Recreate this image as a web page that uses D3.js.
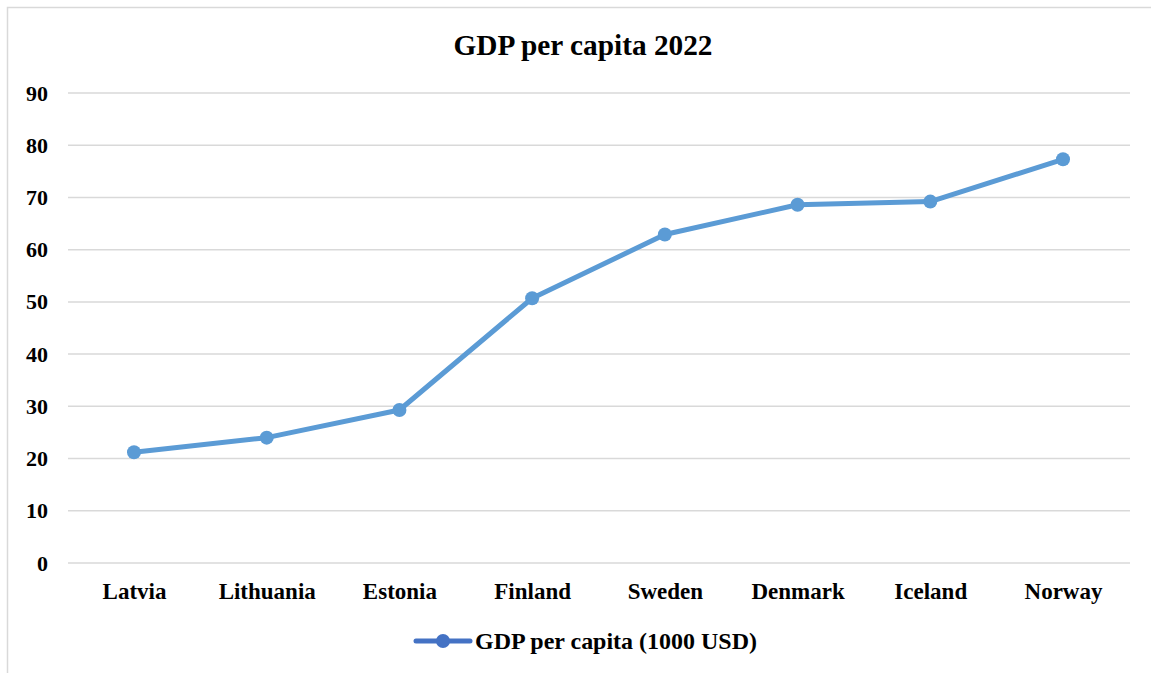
<!DOCTYPE html>
<html><head><meta charset="utf-8">
<script src="https://cdn.jsdelivr.net/npm/d3@7"></script>
<style>body{margin:0;background:#fff}svg{display:block}</style>
</head><body>
<svg id="c" width="1151" height="673"></svg>
<script>
const categories = ["Latvia","Lithuania","Estonia","Finland","Sweden","Denmark","Iceland","Norway"];
const values = [21.2, 24.0, 29.3, 50.7, 62.9, 68.6, 69.2, 77.3];
const yTicks = [0,10,20,30,40,50,60,70,80,90];
const seriesName = "GDP per capita (1000 USD)";
const title = "GDP per capita 2022";

const svg = d3.select("#c");
const font = "'Liberation Serif','Times New Roman',serif";
svg.append("rect").attr("x",7.5).attr("y",7.5).attr("width",1160).attr("height",700)
  .attr("fill","#fff").attr("stroke","#d9d9d9").attr("stroke-width",1.5);

const x = d3.scalePoint().domain(categories).range([134,1063]);
const y = d3.scaleLinear().domain([0,90]).range([563,93]);

const grid = svg.append("g");
grid.selectAll("line").data(yTicks).join("line")
  .attr("x1",68).attr("x2",1130).attr("y1",d=>y(d)).attr("y2",d=>y(d))
  .attr("stroke","#d9d9d9").attr("stroke-width",1.5);

const yAxis = d3.axisLeft(y).tickValues(yTicks).tickSize(0).tickPadding(0);
const gy = svg.append("g").attr("transform","translate(48,0)").call(yAxis);
gy.select(".domain").remove();
gy.selectAll("text").attr("font-family",font).attr("font-weight","bold").attr("font-size","22px").attr("fill","#000");

const xAxis = d3.axisBottom(x).tickSize(0).tickPadding(0);
const gx = svg.append("g").attr("transform","translate(0,583)").call(xAxis);
gx.select(".domain").remove();
gx.selectAll("text").attr("font-family",font).attr("font-weight","bold").attr("font-size","23px").attr("fill","#000").attr("dy","0.71em");

const line = d3.line().x((d,i)=>x(categories[i])).y(d=>y(d));
svg.append("path").datum(values).attr("d",line).attr("fill","none")
  .attr("stroke","#5b9bd5").attr("stroke-width",5).attr("stroke-linejoin","round");
svg.selectAll("circle.pt").data(values).join("circle").attr("class","pt")
  .attr("cx",(d,i)=>x(categories[i])).attr("cy",d=>y(d)).attr("r",7).attr("fill","#5b9bd5");

svg.append("text").attr("x",583).attr("y",55).attr("text-anchor","middle")
  .attr("font-family",font).attr("font-weight","bold").attr("font-size","29.3px").text(title);

const lg = svg.append("g");
lg.append("line").attr("x1",416).attr("x2",470).attr("y1",641).attr("y2",641)
  .attr("stroke","#4472c4").attr("stroke-width",5).attr("stroke-linecap","round");
lg.append("circle").attr("cx",443).attr("cy",641).attr("r",7).attr("fill","#4472c4");
lg.append("text").attr("x",475).attr("y",649).attr("font-family",font).attr("font-weight","bold")
  .attr("font-size","23.4px").attr("textLength",282).attr("lengthAdjust","spacingAndGlyphs").text(seriesName);
</script>
</body></html>
